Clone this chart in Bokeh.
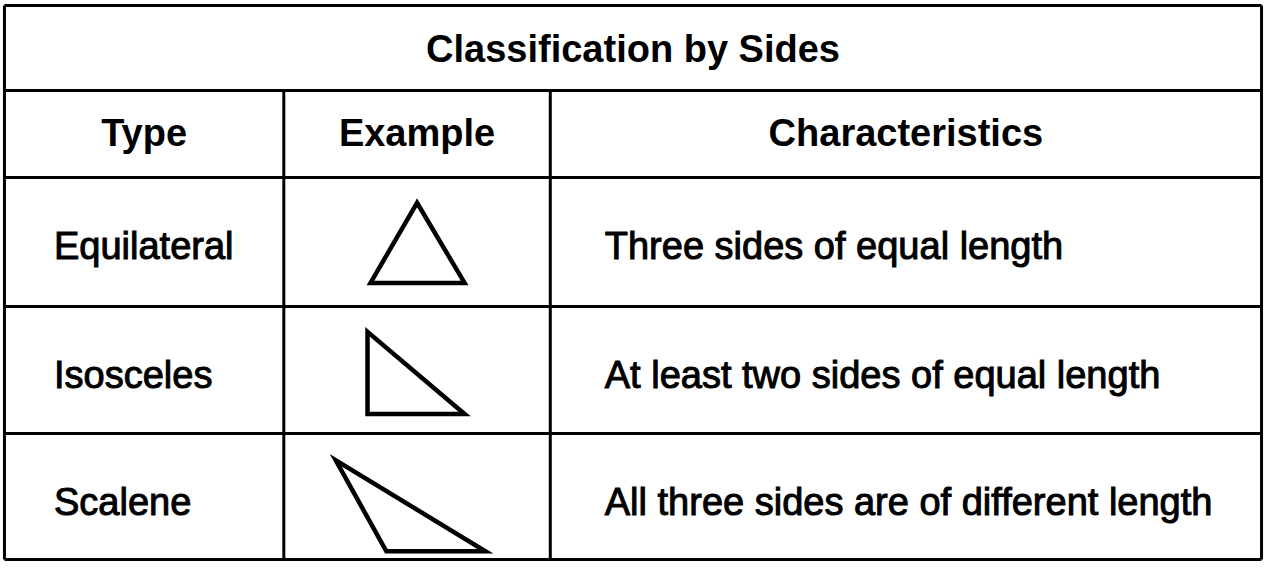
from bokeh.plotting import figure
from bokeh.models import Range1d
from bokeh.core.properties import value
from bokeh.embed import file_html
from bokeh.resources import INLINE

# ---- data ----
title = "Classification by Sides"
headers = ["Type", "Example", "Characteristics"]
types = ["Equilateral", "Isosceles", "Scalene"]
characteristics = [
    "Three sides of equal length",
    "At least two sides of equal length",
    "All three sides are of different length",
]
# example triangle shapes (vertices, in px relative to the cell centre)
tri_x = [
    [0, -47, 48],
    [-50, -50, 48],
    [-82, -31, 69],
]
tri_y = [
    [-40, 42, 42],
    [-39, 45, 45],
    [-37, 56, 56],
]

# ---- layout (reference pixel coordinates) ----
col_edges = [8, 290, 559, 1277]
row_edges = [9, 96, 185, 317, 447, 576]
FONT = value("Liberation Sans")
FS = "38px"

p = figure(width=1264, height=561, output_backend="svg", toolbar_location=None,
           x_range=Range1d(4, 1280), y_range=Range1d(578, 4),
           min_border=0)
p.axis.visible = False
p.grid.visible = False
p.outline_line_color = None
p.background_fill_color = "white"
p.border_fill_color = "white"

# grid lines
hx0, hx1, hy0, hy1 = [], [], [], []
for y in row_edges:
    hx0.append(col_edges[0]); hx1.append(col_edges[-1]); hy0.append(y); hy1.append(y)
for x in (col_edges[0], col_edges[-1]):
    hx0.append(x); hx1.append(x); hy0.append(row_edges[0]); hy1.append(row_edges[-1])
for x in col_edges[1:-1]:
    hx0.append(x); hx1.append(x); hy0.append(row_edges[1]); hy1.append(row_edges[-1])
p.segment(x0=hx0, y0=hy0, x1=hx1, y1=hy1, line_color="black", line_width=3)

# title
p.text(x=[(col_edges[0] + col_edges[-1]) / 2], y=[(row_edges[0] + row_edges[1]) / 2 + 1],
       text=[title], text_font=FONT, text_font_size=FS, text_font_style="bold",
       text_align="center", text_baseline="middle", text_color="black")

# headers
hcx = [(col_edges[i] + col_edges[i + 1]) / 2 for i in range(3)]
hcy = [(row_edges[1] + row_edges[2]) / 2 - 1] * 3
p.text(x=hcx, y=hcy, text=headers, text_font=FONT, text_font_size=FS,
       text_font_style="bold", text_align="center", text_baseline="middle",
       text_color="black")

# body rows
rcy = [(row_edges[i + 2] + row_edges[i + 3]) / 2 + d for i, d in enumerate((4, 5, 6))]
p.text(x=[col_edges[0] + 50] * 3, y=rcy, text=types, text_font=FONT,
       text_font_size=FS, text_align="left", text_baseline="middle",
       text_color="black", text_outline_color="black")
p.text(x=[col_edges[2] + 55] * 3, y=rcy, text=characteristics, text_font=FONT,
       text_font_size=FS, text_align="left", text_baseline="middle",
       text_color="black", text_outline_color="black")

# triangles
ecx = (col_edges[1] + col_edges[2]) / 2
xs, ys = [], []
for i in range(3):
    cy = (row_edges[i + 2] + row_edges[i + 3]) / 2
    xs.append([ecx + v for v in tri_x[i]])
    ys.append([cy + v for v in tri_y[i]])
p.patches(xs=xs, ys=ys, fill_color=None, line_color="black", line_width=4.5,
          line_join="miter")

open("out.html", "w").write(file_html(p, INLINE))
